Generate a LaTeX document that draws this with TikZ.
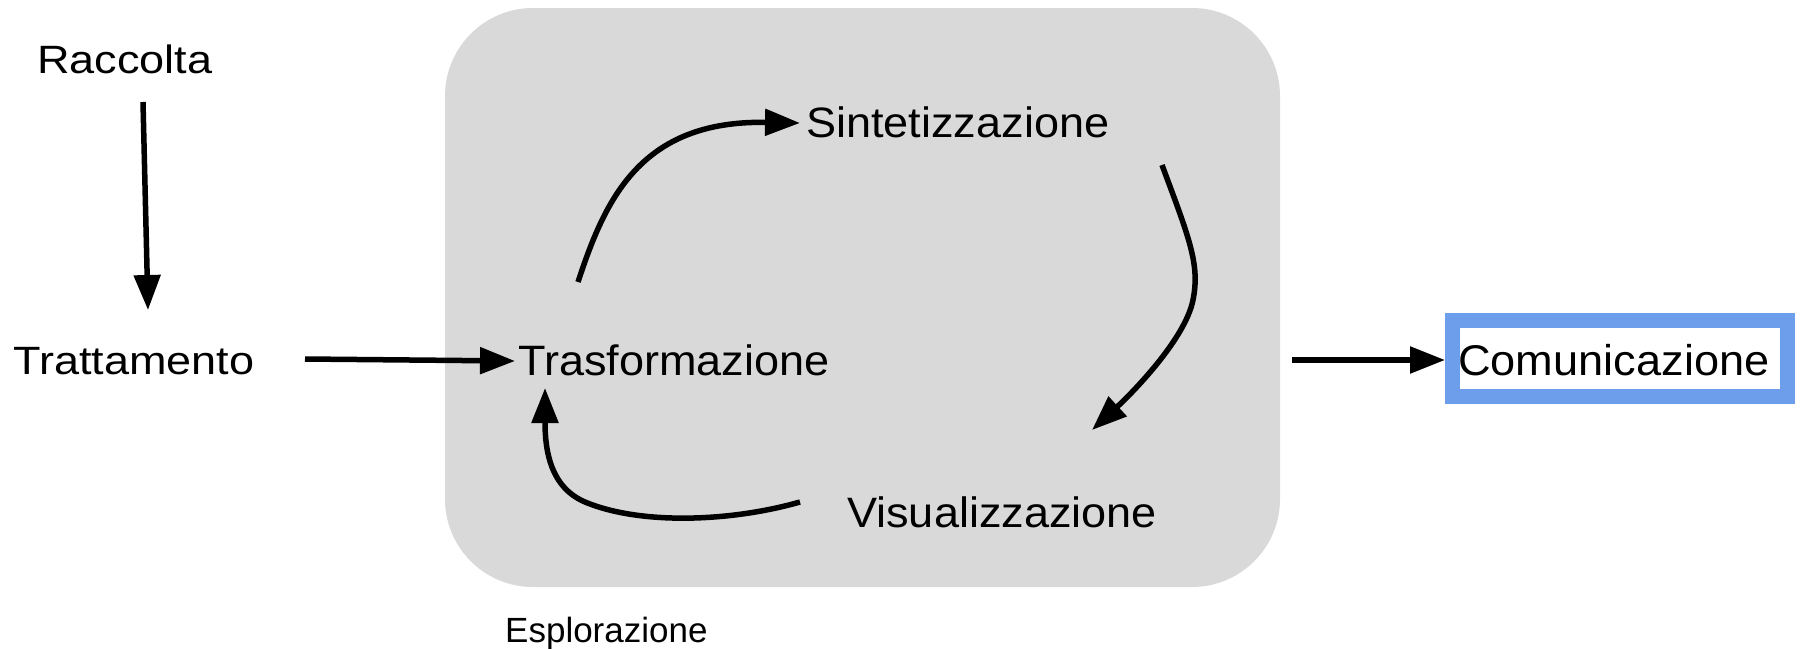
\documentclass[tikz,border=0pt]{standalone}
\usepackage{fontspec}
\setmainfont{Liberation Sans}
\newfontfamily\outerf[FakeStretch=1.14]{Liberation Sans}
\newfontfamily\innerf[FakeStretch=1.06]{Liberation Sans}
\newfontfamily\commf[FakeStretch=1.05]{Liberation Sans}
\usetikzlibrary{arrows.meta}
\definecolor{boxgray}{HTML}{D9D9D9}
\definecolor{cblue}{HTML}{6D9EEB}
\tikzset{
  outerlabel/.style={anchor=base west, inner sep=0pt, font=\outerf\fontsize{39.5}{42}\selectfont},
  innerlabel/.style={anchor=base west, inner sep=0pt, font=\innerf\fontsize{42.5}{46}\selectfont},
  commlabel/.style={anchor=base west, inner sep=0pt, font=\commf\fontsize{43}{46}\selectfont},
  smalllabel/.style={anchor=base west, inner sep=0pt, font=\fontsize{35}{38}\selectfont},
  flow/.style={line width=5.5pt, -{Triangle[length=35pt,width=26pt]}},
}
\begin{document}
\begin{tikzpicture}[x=1pt,y=-1pt]
\useasboundingbox (0,0) rectangle (1802,648);
\fill[white] (0,0) rectangle (1802,648);
% exploration box
\fill[boxgray, rounded corners=88pt] (445,8) rectangle (1280,587);
% labels
\node[outerlabel] (racc) at (37,73) {Raccolta};
\node[outerlabel] (tratt) at (13,374) {Trattamento};
\node[innerlabel] (trasf) at (518,375) {Trasformazione};
\node[innerlabel] (sint) at (806,137) {Sintetizzazione};
\node[innerlabel] (visu) at (847,527) {Visualizzazione};
\node[smalllabel] (espl) at (505,642) {Esplorazione};
\draw[cblue, line width=15pt] (1452.5,320.5) rectangle (1787.5,396);
\node[commlabel] (comm) at (1458,375) {Comunicazione};
% connector end points
\coordinate (a1s) at (143,102);
\coordinate (a1e) at (148,310);
\coordinate (a2s) at (305,359);
\coordinate (a2e) at (515,361);
\coordinate (a3s) at (578,282);
\coordinate (a3e) at (800,123);
\coordinate (a4s) at (1162,165);
\coordinate (a4e) at (1092,430);
\coordinate (a5s) at (800,502);
\coordinate (a5e) at (545,388);
\coordinate (a6s) at (1292,360);
\coordinate (a6e) at (1445,360);
% connectors
\draw[flow] (a1s) -- (a1e);
\draw[flow] (a2s) -- (a2e);
\draw[flow] (a3s) .. controls (605,200) and (640,120) .. (a3e);
\draw[flow] (a4s) .. controls (1190,240) and (1200,265) .. (1193,300) .. controls (1185,340) and (1130,395) .. (a4e);
\draw[flow] (a5s) .. controls (730,522) and (640,525) .. (585,502) .. controls (550,487) and (545,450) .. (a5e);
\draw[flow] (a6s) -- (a6e);
\end{tikzpicture}
\end{document}
